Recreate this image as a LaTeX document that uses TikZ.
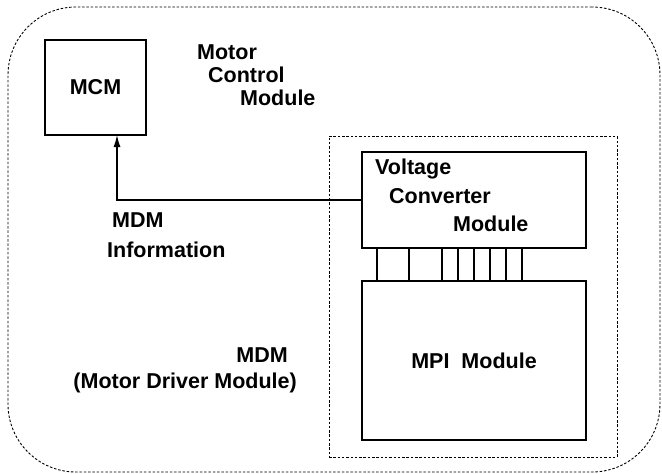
\documentclass[tikz,border=0pt]{standalone}
\usepackage{fontspec}
\setmainfont{Liberation Sans}
\usetikzlibrary{arrows.meta,positioning,calc}

\begin{document}
\begin{tikzpicture}[
  x=1pt, y=-1pt,
  arr/.style={-{Latex[length=12pt,width=7pt]}, line width=1.2pt},
  blk/.style={draw, line width=1.2pt, inner sep=0pt, outer sep=0pt,
    font=\bfseries\fontsize{21.5}{25}\selectfont},
  dashbox/.style={draw, line width=0.9pt, dash pattern=on 2.5pt off 1.8pt,
    inner sep=0pt, outer sep=0pt},
  lbl/.style={inner sep=0pt, font=\bfseries\fontsize{21.5}{25}\selectfont},
  link/.style={line width=1.2pt},
]
\useasboundingbox (0,0) rectangle (662,474);

% ── frames ──────────────────────────────────────────────────────────────────
\node[dashbox, rounded corners=68pt, minimum width=652, minimum height=465]
  (frame) at (334,239.5) {};
\node[dashbox, minimum width=288, minimum height=321] (mdmbox) at (473,296.5) {};

% ── motor control module ────────────────────────────────────────────────────
\node[blk, minimum width=101, minimum height=95] (mcm) at (95.5,87.5) {MCM};
\node[lbl, anchor=base west] (mcmA) at (197,59)  {Motor};
\node[lbl, anchor=base west] (mcmB) at (208,82)  {Control};
\node[lbl, anchor=base west] (mcmC) at (240,105) {Module};

% ── driver module contents ──────────────────────────────────────────────────
\node[blk, minimum width=224, minimum height=96] (vcm) at (474,200) {};
\node[lbl, anchor=base west] (vcmA) at (375,174) {Voltage};
\node[lbl, anchor=base west] (vcmB) at (389,203) {Converter};
\node[lbl, anchor=base west] (vcmC) at (453,231) {Module};

\node[blk, minimum width=224, minimum height=159] (mpi) at (474,360.5)
  {MPI\ \ Module};

% bus between converter and MPI
\foreach \x in {377,409,442,458,474,490,506,522}
  \draw[link] (vcm.south -| \x,0) -- (mpi.north -| \x,0);

% ── labels ──────────────────────────────────────────────────────────────────
\node[lbl, anchor=base west] (infoA) at (112,227) {MDM};
\node[lbl, anchor=base west] (infoB) at (107,257) {Information};

\node[lbl, anchor=base east] (mdmA) at (288,362) {MDM};
\node[lbl, anchor=base east] (mdmB) at (297,388) {(Motor Driver Module)};

% ── arrow ───────────────────────────────────────────────────────────────────
\draw[arr] (vcm.west) -| (mcm.south -| 117,0);
\end{tikzpicture}
\end{document}
